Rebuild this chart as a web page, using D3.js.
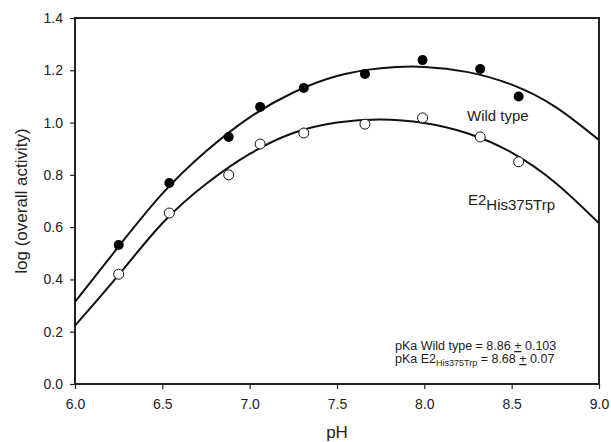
<!DOCTYPE html>
<html lang="en">
  <head>
    <meta charset="UTF-8" />
    <title>pH activity profile</title>
    <script src="https://cdnjs.cloudflare.com/ajax/libs/d3/7.8.5/d3.min.js"></script>
    <style>
      body, html { margin: 0; padding: 0; background: #fff; }
      svg { display: block; }
      text { font-family: "Liberation Sans", Arial, sans-serif; fill: #222; }
    </style>
  </head>
  <body>
    <svg width="611" height="442"></svg>
    <script type="text/javascript">
      // measured points
      const phPoints = [6.25, 6.54, 6.88, 7.06, 7.31, 7.66, 7.99, 8.32, 8.54];
      const wildType = [0.532, 0.769, 0.945, 1.06, 1.132, 1.186, 1.239, 1.205, 1.10];
      const mutant = [0.42, 0.654, 0.80, 0.918, 0.96, 0.994, 1.018, 0.945, 0.85];

      // fitted curves, every 0.25 pH
      const fitPh = [6.0, 6.25, 6.5, 6.75, 7.0, 7.25, 7.5, 7.75, 8.0, 8.25, 8.5, 8.75, 9.0];
      const wildFit = [0.314, 0.526, 0.728, 0.89, 1.02, 1.115, 1.178, 1.208, 1.213, 1.193, 1.145, 1.06, 0.933];
      const mutFit = [0.223, 0.417, 0.615, 0.765, 0.88, 0.96, 1.0, 1.012, 0.998, 0.958, 0.885, 0.77, 0.615];

      const xTicks = [6.0, 6.5, 7.0, 7.5, 8.0, 8.5, 9.0];
      const yTicks = [0.0, 0.2, 0.4, 0.6, 0.8, 1.0, 1.2, 1.4];

      const svg = d3.select("svg");
      const plotLeft = 75, plotRight = 599, plotTop = 18, plotBottom = 384;

      const x = d3.scaleLinear().domain([6, 9]).range([plotLeft, plotRight]);
      const y = d3.scaleLinear().domain([0, 1.4]).range([plotBottom, plotTop]);

      svg.append("defs").append("clipPath").attr("id", "plotClip")
        .append("rect")
        .attr("x", plotLeft).attr("y", plotTop)
        .attr("width", plotRight - plotLeft).attr("height", plotBottom - plotTop);

      // axes
      const xAxis = svg.append("g")
        .attr("transform", `translate(0,${plotBottom})`)
        .call(d3.axisBottom(x).tickValues(xTicks).tickFormat(d3.format(".1f")).tickSize(5).tickPadding(10));
      const yAxis = svg.append("g")
        .attr("transform", `translate(${plotLeft},0)`)
        .call(d3.axisLeft(y).tickValues(yTicks).tickFormat(d3.format(".1f")).tickSize(5).tickPadding(7));

      [xAxis, yAxis].forEach((a) => {
        a.select(".domain").remove();
        a.selectAll(".tick line").attr("stroke", "#222").attr("stroke-width", 1.2);
        a.selectAll(".tick text")
          .attr("font-size", 14)
          .attr("font-family", "Liberation Sans, Arial, sans-serif")
          .attr("fill", "#222");
      });

      // frame
      svg.append("rect")
        .attr("x", plotLeft).attr("y", plotTop)
        .attr("width", plotRight - plotLeft).attr("height", plotBottom - plotTop)
        .attr("fill", "none")
        .attr("stroke", "#222")
        .attr("stroke-width", 2);

      // fitted curves
      const line = d3.line()
        .x((d) => x(d[0]))
        .y((d) => y(d[1]))
        .curve(d3.curveNatural);

      const plot = svg.append("g").attr("clip-path", "url(#plotClip)");
      [wildFit, mutFit].forEach((ys) => {
        plot.append("path")
          .datum(fitPh.map((v, i) => [v, ys[i]]))
          .attr("d", line)
          .attr("fill", "none")
          .attr("stroke", "#111")
          .attr("stroke-width", 2);
      });

      // points
      svg.append("g").selectAll("circle")
        .data(phPoints.map((v, i) => [v, wildType[i]]))
        .join("circle")
        .attr("cx", (d) => x(d[0]))
        .attr("cy", (d) => y(d[1]))
        .attr("r", 5)
        .attr("fill", "#000");

      svg.append("g").selectAll("circle")
        .data(phPoints.map((v, i) => [v, mutant[i]]))
        .join("circle")
        .attr("cx", (d) => x(d[0]))
        .attr("cy", (d) => y(d[1]))
        .attr("r", 5)
        .attr("fill", "#fff")
        .attr("stroke", "#111")
        .attr("stroke-width", 1);

      // axis titles
      svg.append("text")
        .attr("x", (plotLeft + plotRight) / 2)
        .attr("y", 438)
        .attr("text-anchor", "middle")
        .attr("font-size", 17)
        .text("pH");

      svg.append("text")
        .attr("transform", `translate(27,${(plotTop + plotBottom) / 2}) rotate(-90)`)
        .attr("text-anchor", "middle")
        .attr("font-size", 17)
        .text("log (overall activity)");

      // curve labels
      svg.append("text")
        .attr("x", 467).attr("y", 121)
        .attr("font-size", 15)
        .text("Wild type");

      const e2 = svg.append("text").attr("x", 468).attr("y", 205).attr("font-size", 15);
      e2.append("tspan").text("E2");
      e2.append("tspan").attr("dy", 5).text("His375Trp");

      // pKa annotation
      const a1 = svg.append("text").attr("x", 395).attr("y", 350).attr("font-size", 12.5);
      a1.append("tspan").text("pKa Wild type = 8.86 ");
      a1.append("tspan").attr("text-decoration", "underline").text("+");
      a1.append("tspan").text(" 0.103");

      const a2 = svg.append("text").attr("x", 395).attr("y", 363).attr("font-size", 12.5);
      a2.append("tspan").text("pKa E2");
      a2.append("tspan").attr("dy", 3).attr("font-size", 9).text("His375Trp");
      a2.append("tspan").attr("dy", -3).text(" = 8.68 ");
      a2.append("tspan").attr("text-decoration", "underline").text("+");
      a2.append("tspan").text(" 0.07");
    </script>
  </body>
</html>
